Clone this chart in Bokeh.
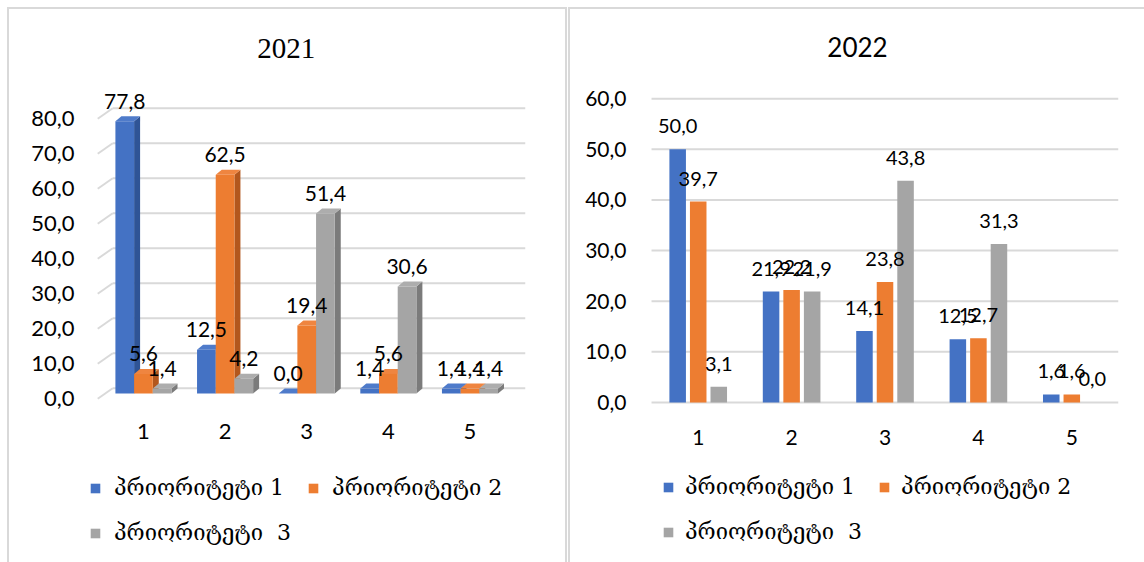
from bokeh.plotting import figure
from bokeh.layouts import row
from bokeh.models import (ColumnDataSource, FixedTicker, Legend, LegendItem,
                          Label, Range1d)
from bokeh.core.properties import value
from bokeh.embed import file_html
from bokeh.resources import INLINE

# ---- data -------------------------------------------------------------
groups = [1, 2, 3, 4, 5]
series_names = ["პრიორიტეტი 1", "პრიორიტეტი 2", "პრიორიტეტი  3"]

prio1_2021 = [77.8, 12.5, 0.0, 1.4, 1.4]
prio2_2021 = [5.6, 62.5, 19.4, 5.6, 1.4]
prio3_2021 = [1.4, 4.2, 51.4, 30.6, 1.4]

prio1_2022 = [50.0, 21.9, 14.1, 12.5, 1.6]
prio2_2022 = [39.7, 22.2, 23.8, 12.7, 1.6]
prio3_2022 = [3.1, 21.9, 43.8, 31.3, 0.0]

yticks_2021 = [0, 10, 20, 30, 40, 50, 60, 70, 80]
yticks_2022 = [0, 10, 20, 30, 40, 50, 60]

# ---- style ------------------------------------------------------------
FRONT = ["#4472C4", "#ED7D31", "#A5A5A5"]
SIDE = ["#2F5496", "#B3571D", "#7B7B7B"]
TOP = ["#4F7BCA", "#EF8540", "#ADADAD"]
GRID = "#d9d9d9"
NUM_FONT = "Lato"
LEG_FONT = "DejaVu Serif"


def fmt(v):
    return f"{v:.1f}".replace(".", ",")


def style_axes(p, font_size, ystandoff, xstandoff, x_at):
    p.xgrid.visible = False
    p.ygrid.visible = False
    p.outline_line_color = None
    for ax in (p.xaxis[0], p.yaxis[0]):
        ax.axis_line_color = None
        ax.major_tick_line_color = None
        ax.minor_tick_line_color = None
        ax.major_label_text_font = NUM_FONT
        ax.major_label_text_font_size = font_size
        ax.major_label_text_color = "#000000"
    p.yaxis[0].major_label_standoff = ystandoff
    p.xaxis[0].major_label_standoff = xstandoff
    # category axis sits just under the bars, the legend goes below it
    p.xaxis[0].fixed_location = x_at
    p.xaxis[0].ticker = FixedTicker(ticks=groups)
    p.xaxis[0].major_label_overrides = {g: str(g) for g in groups}


def make_legend(p, renderers, loc, standoff):
    items = [LegendItem(label=n, renderers=[r]) for n, r in zip(series_names, renderers)]
    leg = Legend(items=items, location=loc, orientation="horizontal", ncols=2,
                 label_text_font=LEG_FONT, label_text_font_size="22px",
                 label_text_color="#000000", glyph_width=12, glyph_height=12,
                 label_standoff=standoff, spacing=16, label_height=29,
                 padding=0, margin=0, border_line_color=None,
                 background_fill_alpha=0)
    p.add_layout(leg)


# ======================================================================
# 2021 : bars with a little depth, gridlines on a receding back wall
# ======================================================================
L_XPX = 81.7            # pixels per category
L_YPX = 3.5             # pixels per unit
wall_x = 0.44           # front edge of the side wall
lx0, lx1 = 0.2534, 5.68
ly0, ly1 = -47.71, 109.14
wall_dx = 15 / L_XPX    # depth of the back wall
wall_dy = 1.5
bar_dx = 6 / L_XPX      # depth of each bar
bar_dy = 5 / L_YPX
lw = 0.229
offsets = [-lw, 0.0, lw]

left = figure(width=556, height=553, x_range=Range1d(lx0, lx1), y_range=Range1d(ly0, ly1),
              output_backend="svg", toolbar_location=None,
              min_border_left=73, min_border_right=40, min_border_top=2,
              min_border_bottom=2, margin=(9, 0, 0, 9),
              styles={"outline": "2px solid #d9d9d9"})
style_axes(left, "22px", 2, 12, -3.43)
left.yaxis[0].ticker = FixedTicker(ticks=[t - wall_dy for t in yticks_2021])
left.yaxis[0].major_label_overrides = {t - wall_dy: fmt(t) for t in yticks_2021}

# back wall gridlines and the short receding strokes on the side wall
n = len(yticks_2021)
left.segment(x0=[wall_x + wall_dx] * n, x1=[lx1] * n,
             y0=[t + wall_dy for t in yticks_2021], y1=[t + wall_dy for t in yticks_2021],
             line_color=GRID, line_width=2)
left.segment(x0=[wall_x] * n, x1=[wall_x + wall_dx] * n,
             y0=[t - wall_dy for t in yticks_2021], y1=[t + wall_dy for t in yticks_2021],
             line_color=GRID, line_width=2)

front_renderers = []
for k, vals in enumerate([prio1_2021, prio2_2021, prio3_2021]):
    xs = [g + offsets[k] for g in groups]
    side_xs, side_ys, top_xs, top_ys = [], [], [], []
    for x, v in zip(xs, vals):
        a, b = x - lw / 2, x + lw / 2
        side_xs.append([b, b, b + bar_dx, b + bar_dx])
        side_ys.append([0, v, v + bar_dy, bar_dy])
        top_xs.append([a, b, b + bar_dx, a + bar_dx])
        top_ys.append([v, v, v + bar_dy, v + bar_dy])
    left.patches(side_xs, side_ys, fill_color=SIDE[k], line_color=None)
    left.patches(top_xs, top_ys, fill_color=TOP[k], line_color=None)
    src = ColumnDataSource(dict(x=xs, top=vals, label=[fmt(v) for v in vals]))
    r = left.vbar(x="x", top="top", bottom=0, width=lw, source=src,
                  fill_color=FRONT[k], line_color=None)
    front_renderers.append((r, src))

for r, src in front_renderers:
    left.text(x="x", y="top", text="label", source=src, text_align="center",
              text_baseline="middle", y_offset=-20, text_font=value(NUM_FONT),
              text_font_size="21px", text_color="#000000")

left.add_layout(Label(x=1 + (286 - 143) / L_XPX, y=(393 - 48) / L_YPX, text="2021",
                      text_align="center", text_baseline="middle",
                      text_font="Liberation Serif", text_font_size="29px",
                      text_color="#000000"))
make_legend(left, [r for r, _ in front_renderers], (7, 13), 13)

# ======================================================================
# 2022 : flat clustered bars
# ======================================================================
R_XPX = 93.4
R_YPX = 5.0625
rx0, rx1 = 0.382, 5.5
ry0, ry1 = -31.21, 77.23
rw = 0.177
roff = [-0.22, 0.0, 0.22]

right = figure(width=574, height=553, x_range=Range1d(rx0, rx1), y_range=Range1d(ry0, ry1),
               output_backend="svg", toolbar_location=None,
               min_border_left=70, min_border_right=26, min_border_top=2,
               min_border_bottom=2, margin=(9, 0, 0, 5),
               styles={"outline": "2px solid #d9d9d9"})
style_axes(right, "21px", 8, 16, -1.0)
right.yaxis[0].ticker = FixedTicker(ticks=yticks_2022)
right.yaxis[0].major_label_overrides = {t: fmt(t) for t in yticks_2022}

m = len(yticks_2022)
right.segment(x0=[0.5] * m, x1=[rx1] * m,
              y0=yticks_2022, y1=yticks_2022, line_color=GRID, line_width=2)

rrend = []
for k, vals in enumerate([prio1_2022, prio2_2022, prio3_2022]):
    src = ColumnDataSource(dict(x=[g + roff[k] for g in groups], top=vals,
                                label=[fmt(v) for v in vals]))
    r = right.vbar(x="x", top="top", bottom=0, width=rw, source=src,
                   fill_color=FRONT[k], line_color=None)
    rrend.append((r, src))
for r, src in rrend:
    right.text(x="x", y="top", text="label", source=src, text_align="center",
               text_baseline="middle", y_offset=-23, text_font=value(NUM_FONT),
               text_font_size="20px", text_color="#000000")

right.add_layout(Label(x=1 + (857 - 697.7) / R_XPX, y=(402 - 47) / R_YPX, text="2022",
                       text_align="center", text_baseline="middle",
                       text_font=NUM_FONT, text_font_size="26px",
                       text_color="#000000"))
make_legend(right, [r for r, _ in rrend], (22, 14), 11)

layout = row(left, right)
open("out.html", "w").write(file_html(layout, INLINE))
